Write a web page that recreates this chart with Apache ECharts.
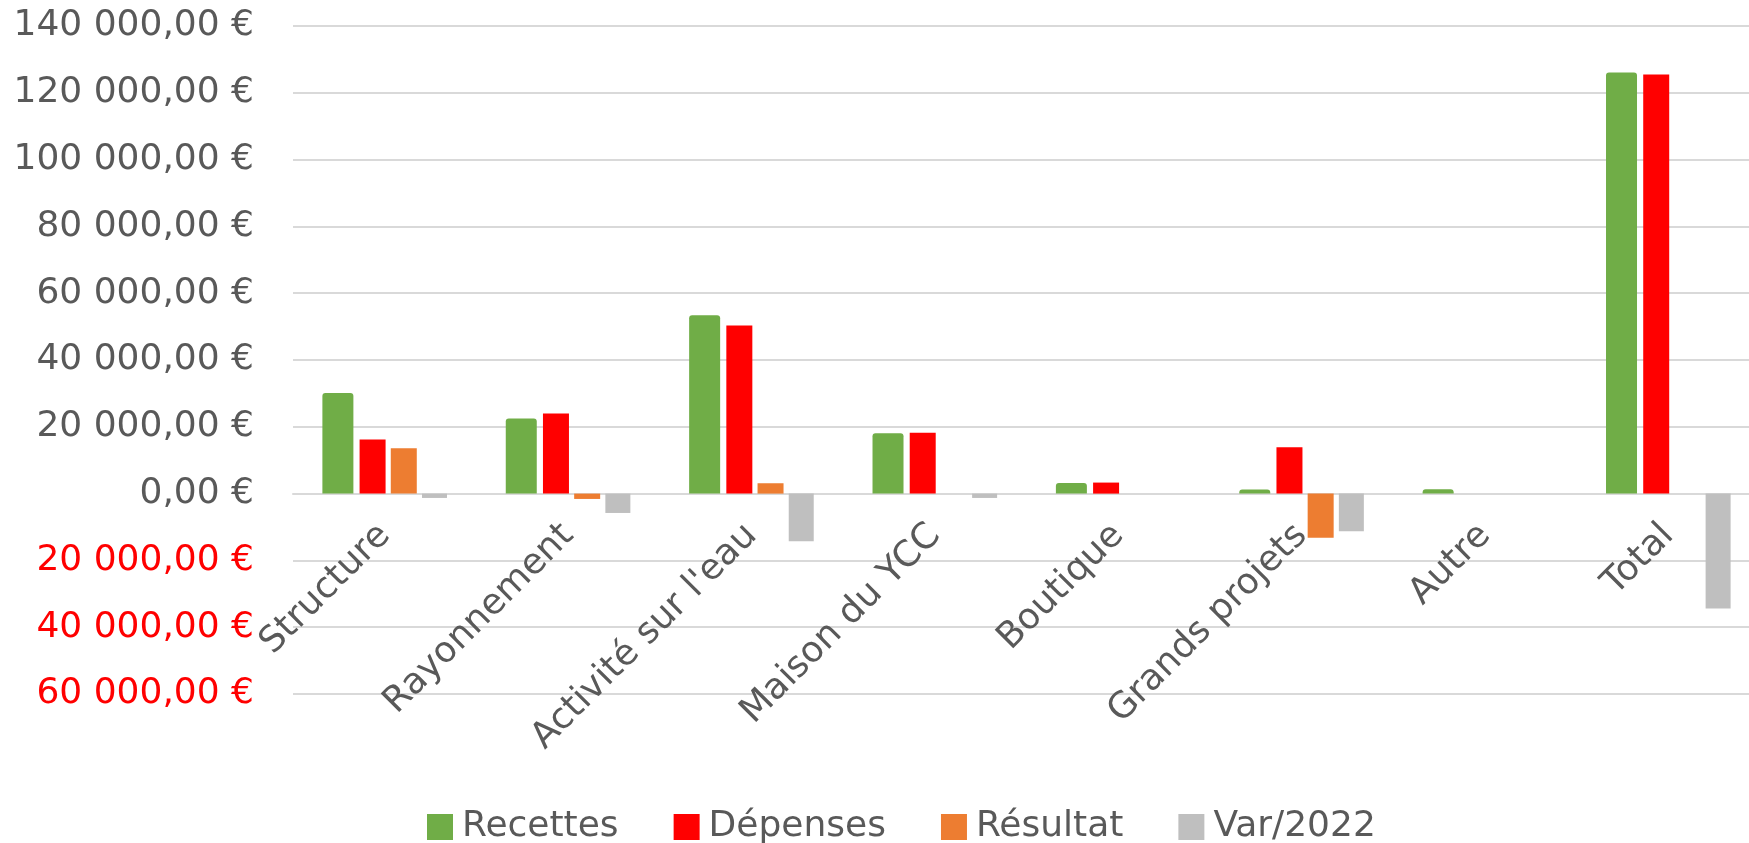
<!DOCTYPE html>
<html>
<head>
<meta charset="utf-8">
<script src="https://cdn.jsdelivr.net/npm/echarts@6/dist/echarts.min.js"></script>
<style>html,body{margin:0;padding:0;background:#fff}#c{width:1749px;height:843px}</style>
</head>
<body>
<div id="c"></div>
<script>
const categories = ["Structure", "Rayonnement", "Activité sur l'eau", "Maison du YCC", "Boutique", "Grands projets", "Autre", "Total"];
const recettes = [30100, 22500, 53400, 18100, 3200, 1200, 1300, 126100];
const depenses = [16200, 24000, 50300, 18200, 3300, 13900, 0, 125500];
const resultat = [13600, -1600, 3100, 0, 0, -13200, 0, 0];
const var2022 = [-1300, -5800, -14300, -1300, 0, -11300, 0, -34400];
const seriesNames = ["Recettes", "Dépenses", "Résultat", "Var/2022"];
const colors = ["#70AD47", "#FF0000", "#ED7D31", "#BFBFBF"];

function fmt(v) {
  const a = Math.abs(v);
  const s = a.toFixed(0).replace(/\B(?=(\d{3})+(?!\d))/g, " ");
  return s + ",00 €";
}

const FONT = "DejaVu Sans";
const FS = 36;
const chart = echarts.init(document.getElementById('c'), null, {renderer: 'canvas'});
const data = [recettes, depenses, resultat, var2022];
const widths = [31, 26, 26, 25];
chart.setOption({
  animation: false,
  backgroundColor: '#fff',
  grid: {left: 293, right: -11, top: 26, bottom: 149, containLabel: false, outerBoundsMode: 'none'},
  legend: {
    left: 422, top: 804,
    itemWidth: 26, itemHeight: 26, itemGap: 55,
    icon: 'rect',
    textStyle: {fontFamily: FONT, fontSize: FS, color: '#595959', padding: [0, 0, 0, 4]},
    data: seriesNames
  },
  xAxis: [{
    type: 'category',
    data: categories,
    axisLine: {onZero: true, lineStyle: {color: '#D9D9D9', width: 2}},
    axisTick: {show: false},
    axisLabel: {show: false}
  }, {
    type: 'category',
    data: categories,
    position: 'bottom',
    offset: -200,
    axisLine: {show: false, onZero: false},
    axisTick: {show: false},
    axisLabel: {rotate: 45, interval: 0, margin: 36, fontFamily: FONT, fontSize: FS, color: '#595959'}
  }],
  yAxis: {
    type: 'value',
    min: -60000, max: 140000, interval: 20000,
    axisLine: {show: false},
    axisTick: {show: false},
    splitLine: {lineStyle: {color: '#D9D9D9', width: 2}},
    axisLabel: {
      margin: 39, fontFamily: FONT, fontSize: FS,
      formatter: fmt,
      color: function (v) { return v < 0 ? '#FF0000' : '#595959'; }
    }
  },
  series: seriesNames.map((n, i) => ({
    name: n, type: 'bar', data: data[i],
    barWidth: widths[i], barGap: '20%',
    itemStyle: {color: colors[i], borderRadius: i === 0 ? [3, 3, 0, 0] : 0}
  }))
});
</script>
</body>
</html>
